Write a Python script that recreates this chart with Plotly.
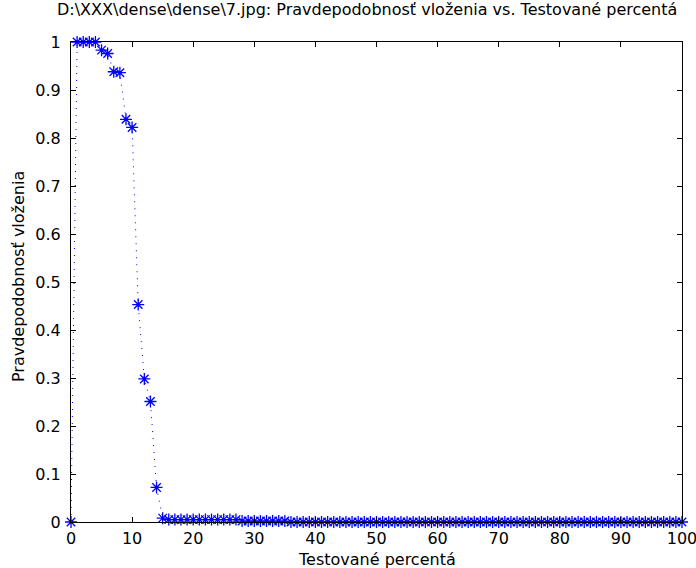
import plotly.graph_objects as go

x_vals = list(range(0, 101))
y_head = [0, 1, 1, 1, 1, 0.983, 0.976, 0.938, 0.936, 0.839, 0.822,
          0.453, 0.298, 0.251, 0.072, 0.008]
y_mid = [0.005] * 12          # x = 16..27
y_low = [0.002] * 8           # x = 28..35
y_tail = [0.0] * 65           # x = 36..100
y_vals = y_head + y_mid + y_low + y_tail

x_ticks = [0, 10, 20, 30, 40, 50, 60, 70, 80, 90, 100]
y_ticks = [0, 0.1, 0.2, 0.3, 0.4, 0.5, 0.6, 0.7, 0.8, 0.9, 1]
y_tick_text = ["0", "0.1", "0.2", "0.3", "0.4", "0.5", "0.6", "0.7", "0.8", "0.9", "1"]

title_text = "D:\\XXX\\dense\\dense\\7.jpg: Pravdepodobnosť vloženia vs. Testované percentá"
x_title = "Testované percentá"
y_title = "Pravdepodobnosť vloženia"

FONT = "DejaVu Sans"
FS = 16

fig = go.Figure()
fig.add_trace(go.Scatter(
    x=x_vals, y=y_vals, mode="lines+markers",
    line=dict(color="#0000ff", width=1, dash="1px,6px"),
    marker=dict(symbol="asterisk-open", size=10, color="#0000ff",
                line=dict(color="#0000ff", width=1.3)),
    cliponaxis=False, showlegend=False,
))

axis_common = dict(
    showgrid=False, zeroline=False, showline=True, linecolor="black",
    linewidth=1, mirror="ticks", ticks="inside", ticklen=5,
    tickcolor="black", tickwidth=1, automargin=False,
    ticklabeloverflow="allow",
    tickfont=dict(family=FONT, size=FS, color="black"),
)

fig.update_layout(
    width=696, height=568,
    margin=dict(l=71, r=14, t=42, b=46, autoexpand=False),
    paper_bgcolor="white", plot_bgcolor="white",
    font=dict(family=FONT, size=FS, color="black"),
    xaxis=dict(range=[0, 100], tickvals=x_ticks, ticklabelstandoff=2,
               **axis_common),
    yaxis=dict(range=[0, 1], tickvals=y_ticks, ticktext=y_tick_text,
               ticklabelstandoff=6, **axis_common),
    annotations=[
        dict(text=title_text, xref="paper", yref="paper", x=0.5, y=1,
             xanchor="center", yanchor="bottom", xshift=-10, yshift=21,
             showarrow=False,
             font=dict(family=FONT, size=FS, color="black")),
        dict(text=x_title, xref="paper", yref="paper", x=0.5, y=0,
             xanchor="center", yanchor="top", yshift=-26, showarrow=False,
             font=dict(family=FONT, size=FS, color="black")),
        dict(text=y_title, xref="paper", yref="paper", x=0, y=0.5,
             xanchor="center", yanchor="middle", xshift=-53, yshift=5,
             textangle=-90, showarrow=False,
             font=dict(family=FONT, size=FS, color="black")),
    ],
)

fig.write_html("out.html")
